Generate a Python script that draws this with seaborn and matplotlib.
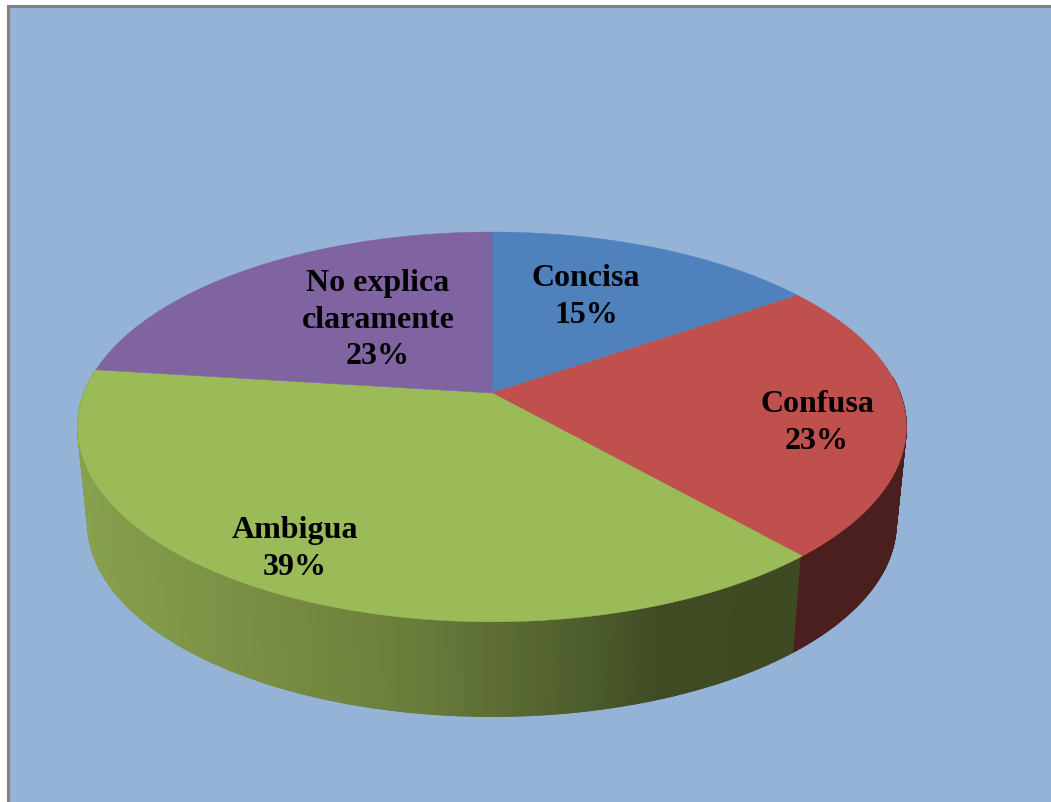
import numpy as np
import seaborn as sns
import matplotlib
matplotlib.use("Agg")
import matplotlib.pyplot as plt
from matplotlib.patches import Rectangle

categories = ['Concisa', 'Confusa', 'Ambigua', 'No explica\nclaramente']
values = [15.4, 23.1, 38.5, 23.0]
pct_labels = ['15%', '23%', '39%', '23%']
colors = sns.color_palette(['#4F81BD', '#C0504D', '#9BBB59', '#8064A2'])
label_pos = [(586, 297), (817, 423), (295, 549), (378, 320)]

# shading of the green side, left to right in pixels
shade_x = [80, 300, 400, 500, 600, 660, 800]
shade_r = [135, 117, 107, 92, 75, 63, 62]
shade_g = [160, 137, 127, 108, 90, 75, 74]
shade_b = [78, 65, 60, 52, 42, 35, 34]
side_red = (76 / 255, 31 / 255, 31 / 255)

sns.set_theme(style='white')
plt.rcParams['font.family'] = ['Liberation Serif', 'DejaVu Serif']

# perspective of the disc, in pixels
CX, CY_TOP, CY_BOT = 492, 393, 490
A_TOP, B_TOP, A_BOT, B_BOT = 408, 189, 398, 187
K = 0.174
SIDE_START = 85  # the wall is hidden behind the top face before this angle


def project(deg, cy, a, b):
    t = np.radians(deg)
    u, v = np.sin(t), np.cos(t)
    return CX + a * u / (1 + K * v), cy - b * v / (1 + K * v)


fig = plt.figure(figsize=(10.51, 8.02), dpi=100, facecolor='white')
ax = fig.add_axes([0, 0, 1, 1])
ax.set_xlim(0, 1051)
ax.set_ylim(802, 0)
ax.axis('off')

ax.add_patch(Rectangle((8, 6), 1060, 810, facecolor='#95B3D7', edgecolor='#828282', lw=2.2))

edges = np.concatenate([[0], np.cumsum(values)]) * 3.6

# side wall as thin strips: flat red, shaded green
for d in np.arange(SIDE_START, edges[3], 0.5):
    xt, yt = project(np.array([d, d + 0.7]), CY_TOP, A_TOP, B_TOP)
    xb, yb = project(np.array([d, d + 0.7]), CY_BOT, A_BOT, B_BOT)
    m = xt.mean()
    if d < edges[2]:
        c = side_red
    else:
        c = (np.interp(m, shade_x, shade_r) / 255,
             np.interp(m, shade_x, shade_g) / 255,
             np.interp(m, shade_x, shade_b) / 255)
    ax.fill([xt[0], xt[1], xb[1], xb[0]], [yt[0], yt[1], yb[1], yb[0]],
            color=c, lw=0.8, zorder=2)

# top face
for i, col in enumerate(colors):
    angs = np.linspace(edges[i], edges[i + 1], 200)
    x, y = project(angs, CY_TOP, A_TOP, B_TOP)
    ax.fill(np.r_[CX, x], np.r_[CY_TOP, y], color=col, lw=0.3, zorder=3)

for cat, pct, (lx, ly) in zip(categories, pct_labels, label_pos):
    ax.text(lx, ly, f'{cat}\n{pct}', ha='center', va='center', fontsize=23,
            fontweight='bold', color='black', linespacing=1.33, zorder=4)

fig.savefig('out.png', dpi=100, facecolor='white')
